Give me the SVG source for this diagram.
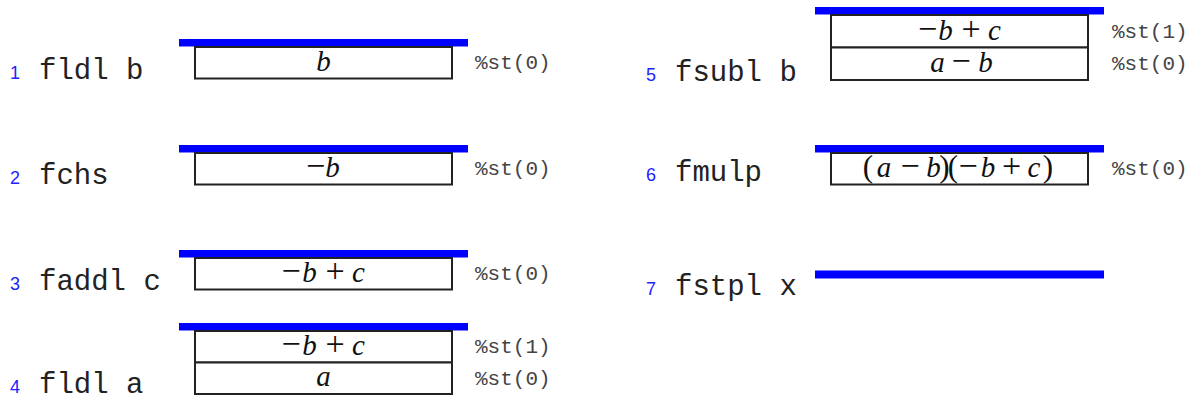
<svg xmlns="http://www.w3.org/2000/svg" width="1194" height="398" viewBox="0 0 1194 398">
<style>
.bar{fill:#0000ff}
.box{fill:#fff;stroke:#222;stroke-width:2}
.num{font-family:"Liberation Sans",Arial,sans-serif;font-size:18px;fill:#2222ff}
.ins{font-family:"Liberation Mono","Courier New",monospace;font-size:29px;fill:#222}
.reg{font-family:"Liberation Mono","Courier New",monospace;font-size:21px;fill:#444}
.m{font-family:"Liberation Serif","Times New Roman",serif;font-size:29px;fill:#111;text-anchor:middle}
.v{font-style:italic}
.op{font-size:34px}
.p{font-size:31px}
</style>

<g id="step1">
<rect class="bar" x="179" y="39" width="289" height="7.5"/>
<rect class="box" x="195" y="47" width="257" height="31.5"/>
<text class="m" y="71"><tspan class="v" x="323.5">b</tspan></text>
<text class="reg" x="475" y="68.5">%st(0)</text>
<text class="num" x="10" y="79">1</text>
<text class="ins" x="39" y="79">fldl b</text>
</g>

<g id="step2">
<rect class="bar" x="179" y="145" width="289" height="7.5"/>
<rect class="box" x="195" y="153" width="257" height="31.5"/>
<text class="m" y="176.5"><tspan class="op" x="315.5">−</tspan><tspan class="v" x="332.5">b</tspan></text>
<text class="reg" x="475" y="174.5">%st(0)</text>
<text class="num" x="10" y="183.5">2</text>
<text class="ins" x="39" y="183.5">fchs</text>
</g>

<g id="step3">
<rect class="bar" x="179" y="250" width="289" height="7.5"/>
<rect class="box" x="195" y="258" width="257" height="31.5"/>
<text class="m" y="281.5"><tspan class="op" x="291">−</tspan><tspan class="v" x="309.5">b</tspan><tspan class="op" x="335">+</tspan><tspan class="v" x="358.5">c</tspan></text>
<text class="reg" x="475" y="279.5">%st(0)</text>
<text class="num" x="10" y="289.5">3</text>
<text class="ins" x="39" y="289.5">faddl c</text>
</g>

<g id="step4">
<rect class="bar" x="179" y="323" width="289" height="7.5"/>
<rect class="box" x="195" y="331" width="257" height="31.5"/>
<rect class="box" x="195" y="362.5" width="257" height="31.5"/>
<text class="m" y="355"><tspan class="op" x="291">−</tspan><tspan class="v" x="309.5">b</tspan><tspan class="op" x="335">+</tspan><tspan class="v" x="358.5">c</tspan></text>
<text class="m" y="386"><tspan class="v" x="323.5">a</tspan></text>
<text class="reg" x="475" y="353">%st(1)</text>
<text class="reg" x="475" y="384.5">%st(0)</text>
<text class="num" x="10" y="393">4</text>
<text class="ins" x="39" y="393">fldl a</text>
</g>

<g id="step5">
<rect class="bar" x="815" y="7" width="289" height="7.5"/>
<rect class="box" x="831" y="15" width="257" height="32.5"/>
<rect class="box" x="831" y="47.5" width="257" height="32.5"/>
<text class="m" y="39.5"><tspan class="op" x="927.5">−</tspan><tspan class="v" x="945.5">b</tspan><tspan class="op" x="971">+</tspan><tspan class="v" x="994.5">c</tspan></text>
<text class="m" y="72"><tspan class="v" x="937.5">a</tspan><tspan class="op" x="961">−</tspan><tspan class="v" x="985.5">b</tspan></text>
<text class="reg" x="1112" y="38">%st(1)</text>
<text class="reg" x="1112" y="70">%st(0)</text>
<text class="num" x="646" y="80.5">5</text>
<text class="ins" x="675" y="80.5">fsubl b</text>
</g>

<g id="step6">
<rect class="bar" x="815" y="145" width="289" height="7.5"/>
<rect class="box" x="831" y="153" width="257" height="31.5"/>
<text class="m" y="176.5"><tspan class="p" x="868">(</tspan><tspan class="v" x="884">a</tspan><tspan class="op" x="910">−</tspan><tspan class="v" x="933.5">b</tspan><tspan class="p" x="944.5">)</tspan><tspan class="p" x="953">(</tspan><tspan class="op" x="968">−</tspan><tspan class="v" x="988">b</tspan><tspan class="op" x="1011.5">+</tspan><tspan class="v" x="1034">c</tspan><tspan class="p" x="1048">)</tspan></text>
<text class="reg" x="1112" y="174.5">%st(0)</text>
<text class="num" x="646" y="181">6</text>
<text class="ins" x="675" y="181">fmulp</text>
</g>

<g id="step7">
<rect class="bar" x="815" y="270.5" width="289" height="8"/>
<text class="num" x="646" y="295">7</text>
<text class="ins" x="675" y="295">fstpl x</text>
</g>
</svg>
